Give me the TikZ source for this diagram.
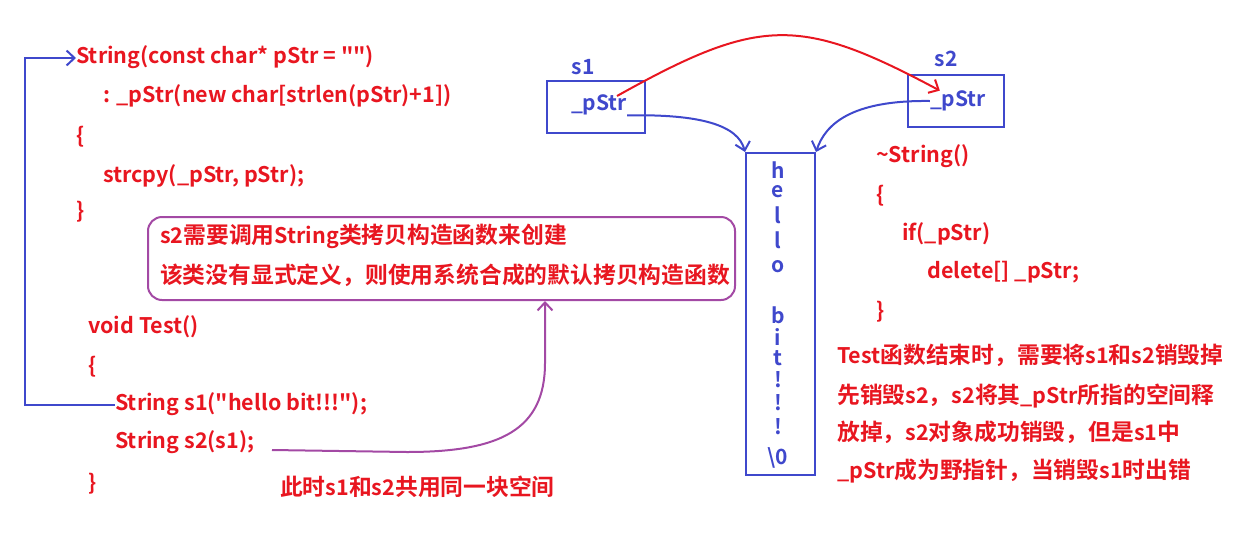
\documentclass[tikz,border=0pt]{standalone}
\usepackage{fontspec}
\setmainfont{Noto Sans CJK SC Bold}[Ligatures=TeXOff]
\newfontfamily\cjk{Noto Sans CJK SC Bold}[Scale=1.06]
\usetikzlibrary{arrows.meta}
\definecolor{codered}{RGB}{232,22,32}
\definecolor{boxblue}{RGB}{63,72,204}
\definecolor{notepurple}{RGB}{163,73,164}
\tikzset{
  code/.style={anchor=west,inner sep=0pt,text=codered,text height=15pt,text depth=5pt,font=\fontsize{21.5}{21.5}\selectfont},
  bluetxt/.style={inner sep=0pt,text=boxblue,font=\fontsize{21}{21}\selectfont},
  memchar/.style={inner sep=0pt,text=boxblue,font=\fontsize{21}{21}\selectfont},
  membox/.style={draw=boxblue,line width=2pt,inner sep=0pt},
  ptr/.style={draw=boxblue,line width=2pt,-{Straight Barb[length=8pt,width=15pt]}},
  copyarr/.style={draw=notepurple,line width=2pt,-{Straight Barb[length=8pt,width=15pt]}}
}
\begin{document}
\begin{tikzpicture}[x=1pt,y=-1pt]
  \useasboundingbox (0,0) rectangle (1242,536);
  % constructor and Test()
  \node[code] (ctor) at (76,58) {String(const char* pStr = "")};
  \node[code] (init) at (103,97) {: \_pStr(new char[strlen(pStr)+1])};
  \node[code] (ob1) at (76,138) {\{};
  \node[code] (cpy) at (103,177) {strcpy(\_pStr, pStr);};
  \node[code] (cb1) at (76,213) {\}};
  \node[code] (test) at (88,328) {void Test()};
  \node[code] (ob2) at (88,368) {\{};
  \node[code] (s1line) at (115,405) {String s1("hello bit!!!");};
  \node[code] (s2line) at (115,443) {String s2(s1);};
  \node[code] (cb2) at (88,485) {\}};
  \node[code] (share) at (280,490) {{\cjk 此时}s1{\cjk 和}s2{\cjk 共用同一块空间}};
  % note box
  \node[draw=notepurple,line width=2pt,rounded corners=14pt,minimum width=587pt,minimum height=83pt] (notebox) at (441.5,258.5) {};
  \node[code] (note1) at (160,238) {s2{\cjk 需要调用}String{\cjk 类拷贝构造函数来创建}};
  \node[code] (note2) at (160,278) {{\cjk 该类没有显式定义，则使用系统合成的默认拷贝构造函数}};
  % objects and memory
  \node[membox,minimum width=98pt,minimum height=52pt] (s1box) at (596,107) {};
  \node[bluetxt] (s1ptr) at (599,105) {\_pStr};
  \node[bluetxt] (s1name) at (583,67) {s1};
  \node[membox,minimum width=96pt,minimum height=52pt] (s2box) at (956,101) {};
  \node[bluetxt] (s2ptr) at (958,101) {\_pStr};
  \node[bluetxt] (s2name) at (946,59) {s2};
  \node[membox,minimum width=69pt,minimum height=322pt] (mem) at (780.5,314) {};
  \foreach \ch/\yy [count=\i] in {h/170,e/192,l/215,l/240,o/267,b/315,i/337,t/358,!/380,!/403,!/427,{\textbackslash0}/458}
    \node[memchar] (c\i) at (778,\yy) {\ch};
  % destructor
  \node[code] (dtor) at (876,157) {\textasciitilde String()};
  \node[code] (ob3) at (876,197) {\{};
  \node[code] (iff) at (902,235) {if(\_pStr)};
  \node[code] (del) at (927,273) {delete[] \_pStr;};
  \node[code] (cb3) at (876,313) {\}};
  \node[code] (end1) at (837,358) {Test{\cjk 函数结束时，需要将}s1{\cjk 和}s2{\cjk 销毁掉}};
  \node[code] (end2) at (837,398) {{\cjk 先销毁}s2{\cjk ，}s2{\cjk 将其}\_pStr{\cjk 所指的空间释}};
  \node[code] (end3) at (837,435) {{\cjk 放掉，}s2{\cjk 对象成功销毁，但是}s1{\cjk 中}};
  \node[code] (end4) at (837,473) {\_pStr{\cjk 成为野指针，当销毁}s1{\cjk 时出错}};
  % connectors
  \coordinate (loop) at (25,230);
  \draw[ptr] (s1line.west) -| (loop) |- (ctor.west);
  \coordinate (s2tail) at (272,450);
  \coordinate (bend) at (545,363);
  \draw[copyarr] (s2tail) -- (407,452) .. controls (500,452) and (545,430) .. (bend) -- (bend |- notebox.south);
  \draw[ptr] (s1ptr.south east) .. controls (700,114) and (738,125) .. (mem.north west);
  \draw[ptr] (s2ptr.west) .. controls (850,100) and (825,125) .. (mem.north east);
  \coordinate (redtail) at (617,96);
  \draw[draw=codered,line width=2pt,-{Straight Barb[length=8pt,width=15pt]}] (redtail) .. controls (760,16) and (800,16) .. ([xshift=10pt]s2ptr.north west);
\end{tikzpicture}
\end{document}
